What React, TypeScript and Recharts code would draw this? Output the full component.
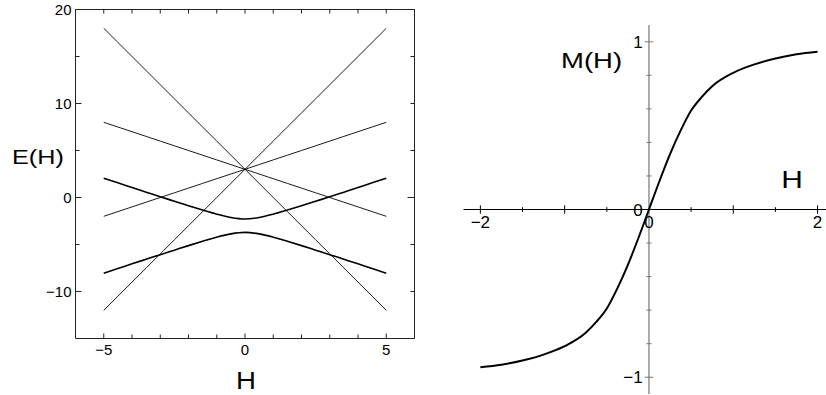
import { LineChart, Line, XAxis, YAxis, ReferenceLine } from 'recharts'

// left panel: energy levels E(H)
const H_LEFT = [-5, -4.5, -4, -3.5, -3, -2.5, -2, -1.5, -1, -0.5, 0, 0.5, 1, 1.5, 2, 2.5, 3, 3.5, 4, 4.5, 5]
const STEEP_DOWN = [18, 16.5, 15, 13.5, 12, 10.5, 9, 7.5, 6, 4.5, 3, 1.5, 0, -1.5, -3, -4.5, -6, -7.5, -9, -10.5, -12]
const STEEP_UP = [-12, -10.5, -9, -7.5, -6, -4.5, -3, -1.5, 0, 1.5, 3, 4.5, 6, 7.5, 9, 10.5, 12, 13.5, 15, 16.5, 18]
const FLAT_DOWN = [8, 7.5, 7, 6.5, 6, 5.5, 5, 4.5, 4, 3.5, 3, 2.5, 2, 1.5, 1, 0.5, 0, -0.5, -1, -1.5, -2]
const FLAT_UP = [-2, -1.5, -1, -0.5, 0, 0.5, 1, 1.5, 2, 2.5, 3, 3.5, 4, 4.5, 5, 5.5, 6, 6.5, 7, 7.5, 8]
const UPPER = [2.05, 1.56, 1.06, 0.57, 0.08, -0.4, -0.88, -1.34, -1.78, -2.13, -2.29, -2.13, -1.78, -1.34, -0.88, -0.4, 0.08, 0.57, 1.06, 1.56, 2.05]
const LOWER = [-8.05, -7.56, -7.06, -6.57, -6.08, -5.6, -5.12, -4.66, -4.22, -3.87, -3.71, -3.87, -4.22, -4.66, -5.12, -5.6, -6.08, -6.57, -7.06, -7.56, -8.05]

const X_TICKS = [-5, -4, -3, -2, -1, 0, 1, 2, 3, 4, 5]
const X_LABELS = [-5, 0, 5]
const Y_TICKS = [20, 15, 10, 5, 0, -5, -10]
const Y_LABELS = [20, 10, 0, -10]

// right panel: magnetisation M(H)
const H_RIGHT = [-2, -1.75, -1.5, -1.25, -1, -0.75, -0.625, -0.5, -0.375, -0.25, -0.125, 0, 0.125, 0.25, 0.375, 0.5, 0.625, 0.75, 1, 1.25, 1.5, 1.75, 2]
const M_RIGHT = [-0.94, -0.925, -0.9, -0.865, -0.815, -0.735, -0.67, -0.59, -0.47, -0.33, -0.17, 0, 0.17, 0.33, 0.47, 0.59, 0.67, 0.735, 0.815, 0.865, 0.9, 0.925, 0.94]
const H_TICKS = [-2, -1.5, -1, -0.5, 0.5, 1, 1.5, 2]
const M_TICKS = [-1, -0.8, -0.6, -0.4, -0.2, 0.2, 0.4, 0.6, 0.8, 1]

const leftData = H_LEFT.map((h, i) => ({
    h,
    a: STEEP_DOWN[i],
    b: STEEP_UP[i],
    c: FLAT_DOWN[i],
    d: FLAT_UP[i],
    up: UPPER[i],
    lo: LOWER[i],
}))
const rightData = H_RIGHT.map((h, i) => ({ h, m: M_RIGHT[i] }))

const FRAME = '#222'
const fmt = (v: number) => (v < 0 ? '\u2212' + Math.abs(v) : String(v))

function BottomTick({ x, y, payload }: any) {
    const major = X_LABELS.includes(payload.value)
    return (
        <g>
            <line x1={x} x2={x} y1={y} y2={y - (major ? 5 : 4)} stroke={FRAME} />
            {major && (
                <text x={x} y={y + 16} textAnchor="middle" fontSize={15} fill="#000">{fmt(payload.value)}</text>
            )}
        </g>
    )
}

function TopTick({ x, y }: any) {
    return <line x1={x} x2={x} y1={y} y2={y + 4} stroke={FRAME} />
}

function LeftTick({ x, y, payload }: any) {
    const major = Y_LABELS.includes(payload.value)
    return (
        <g>
            <line x1={x} x2={x + (major ? 6 : 4)} y1={y} y2={y} stroke={FRAME} />
            {major && (
                <text x={x - 4} y={y + 5} textAnchor="end" fontSize={15} fill="#000">{fmt(payload.value)}</text>
            )}
        </g>
    )
}

function RightTick({ x, y, payload }: any) {
    return <line x1={x} x2={x - (payload.value === 0 ? 7 : 4)} y1={y} y2={y} stroke={FRAME} />
}

const tickLabel = (value: string, position: string) => ({ value, position, offset: 2, fontSize: 17, fill: '#000' })

export default function App() {
    return (
        <div style={{ position: 'absolute', left: 0, top: 0, width: 826, height: 395, background: '#fff', fontFamily: '"Liberation Sans", Arial, sans-serif' }}>
            <div style={{ position: 'absolute', left: 0, top: 0 }}>
                <LineChart width={440} height={395} data={leftData} margin={{ top: 8.5, right: 24.5, bottom: 55.5, left: 74.5 }}>
                    <XAxis xAxisId="b" type="number" dataKey="h" domain={[-6, 6]} allowDataOverflow ticks={X_TICKS}
                        height={1} tickSize={0} tickMargin={0} tick={<BottomTick />} tickLine={false}
                        axisLine={{ stroke: FRAME }} interval={0} />
                    <XAxis xAxisId="t" orientation="top" type="number" dataKey="h" domain={[-6, 6]} allowDataOverflow ticks={X_TICKS}
                        height={1} tickSize={0} tickMargin={0} tick={<TopTick />} tickLine={false}
                        axisLine={{ stroke: FRAME }} interval={0} />
                    <YAxis yAxisId="l" type="number" domain={[-15, 20]} allowDataOverflow ticks={Y_TICKS}
                        width={1} tickSize={0} tickMargin={0} tick={<LeftTick />} tickLine={false}
                        axisLine={{ stroke: FRAME }} interval={0} />
                    <YAxis yAxisId="r" orientation="right" type="number" domain={[-15, 20]} allowDataOverflow ticks={Y_TICKS}
                        width={1} tickSize={0} tickMargin={0} tick={<RightTick />} tickLine={false}
                        axisLine={{ stroke: FRAME }} interval={0} />
                    <Line xAxisId="b" yAxisId="l" type="linear" dataKey="a" stroke="#000" strokeWidth={0.9} dot={false} isAnimationActive={false} />
                    <Line xAxisId="b" yAxisId="l" type="linear" dataKey="b" stroke="#000" strokeWidth={0.9} dot={false} isAnimationActive={false} />
                    <Line xAxisId="b" yAxisId="l" type="linear" dataKey="c" stroke="#000" strokeWidth={0.9} dot={false} isAnimationActive={false} />
                    <Line xAxisId="b" yAxisId="l" type="linear" dataKey="d" stroke="#000" strokeWidth={0.9} dot={false} isAnimationActive={false} />
                    <Line xAxisId="b" yAxisId="l" type="monotone" dataKey="up" stroke="#000" strokeWidth={1.6} dot={false} isAnimationActive={false} />
                    <Line xAxisId="b" yAxisId="l" type="monotone" dataKey="lo" stroke="#000" strokeWidth={1.6} dot={false} isAnimationActive={false} />
                </LineChart>
            </div>
            <div style={{ position: 'absolute', left: 440, top: 0 }}>
                <LineChart width={386} height={395} data={rightData} margin={{ top: 25, right: 0, bottom: 1, left: 23.5 }}>
                    <XAxis type="number" dataKey="h" domain={[-2.2, 2.1]} allowDataOverflow hide />
                    <YAxis type="number" domain={[-1.1, 1.1]} allowDataOverflow hide />
                    <ReferenceLine y={0} stroke="#000" strokeWidth={1.2} />
                    <ReferenceLine x={0} stroke="#777" strokeWidth={1.2} />
                    {H_TICKS.map(h => (
                        <ReferenceLine key={'h' + h} stroke="#000"
                            segment={[{ x: h, y: Number.isInteger(h) ? -0.025 : -0.014 }, { x: h, y: Number.isInteger(h) ? 0.025 : 0.014 }]}
                            label={Math.abs(h) === 2 ? tickLabel(fmt(h), 'bottom') : undefined} />
                    ))}
                    {M_TICKS.map(m => (
                        <ReferenceLine key={'m' + m} stroke="#777"
                            segment={[{ x: Math.abs(m) === 1 ? -0.05 : -0.03, y: m }, { x: Math.abs(m) === 1 ? 0.05 : 0.03, y: m }]}
                            label={Math.abs(m) === 1 ? tickLabel(fmt(m), 'left') : undefined} />
                    ))}
                    <ReferenceLine stroke="none" segment={[{ x: -0.05, y: 0 }, { x: 0.05, y: 0 }]} label={tickLabel('0', 'left')} />
                    <ReferenceLine stroke="none" segment={[{ x: 0, y: -0.025 }, { x: 0, y: 0.025 }]} label={tickLabel('0', 'bottom')} />
                    <Line type="monotone" dataKey="m" stroke="#000" strokeWidth={2} dot={false} isAnimationActive={false} />
                </LineChart>
            </div>
            <svg width={826} height={395} style={{ position: 'absolute', left: 0, top: 0, pointerEvents: 'none' }}>
                <text transform="translate(12,164) scale(1.2,1)" fontSize={21} fill="#000">E(H)</text>
                <text transform="translate(246,389) scale(1.15,1)" textAnchor="middle" fontSize={24} fill="#000">H</text>
                <text transform="translate(561,68) scale(1.25,1)" fontSize={22} fill="#000">M(H)</text>
                <text transform="translate(792,188) scale(1.3,1)" textAnchor="middle" fontSize={23} fill="#000">H</text>
            </svg>
        </div>
    )
}
